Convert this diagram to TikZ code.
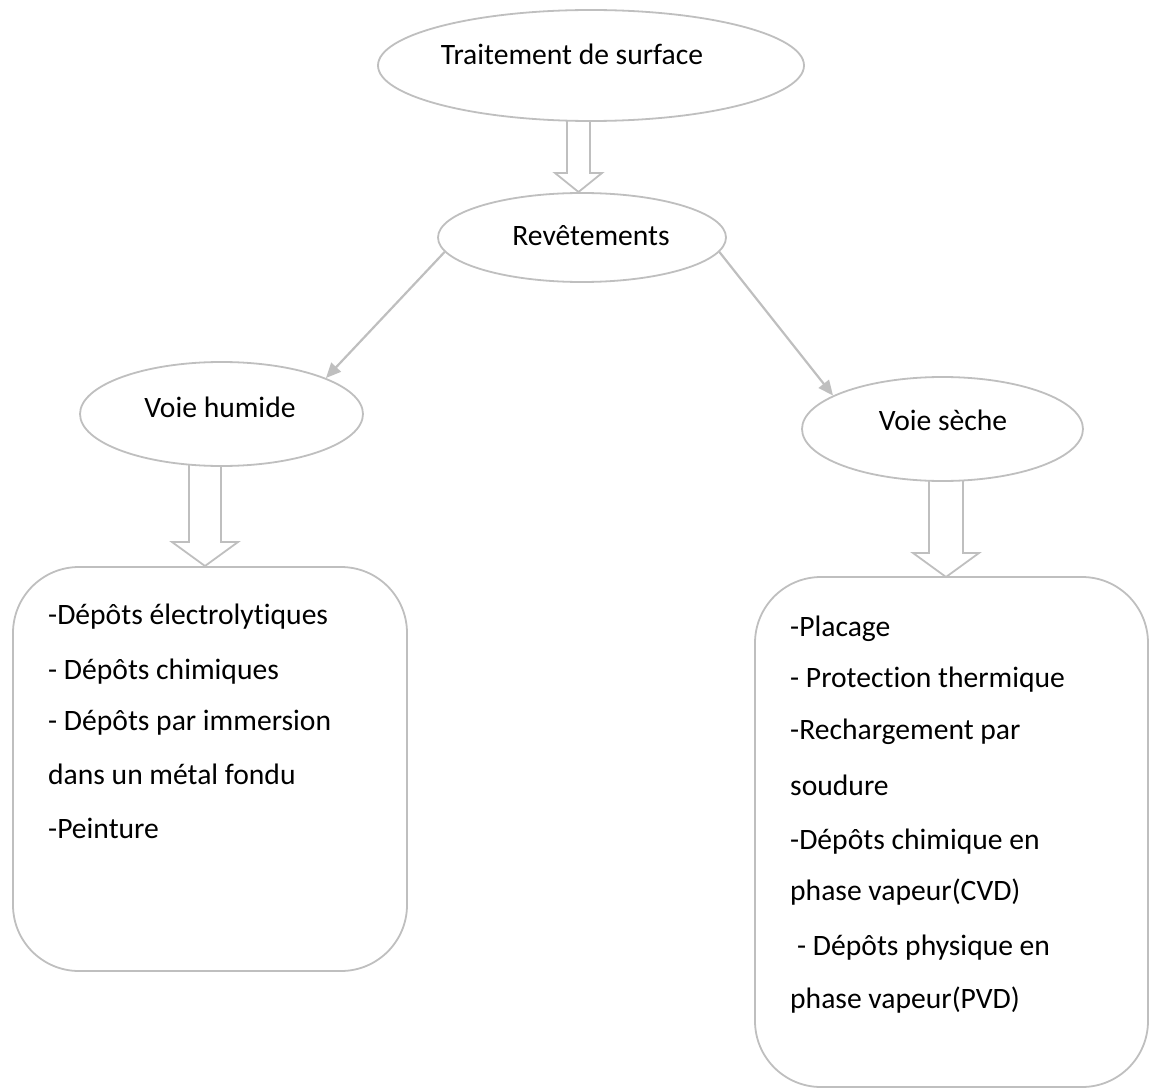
\documentclass[tikz,border=0pt]{standalone}
\usepackage{fontspec}
\setmainfont[Ligatures=NoCommon,RawFeature={-liga;-dlig;-calt}]{Carlito}
\usetikzlibrary{shapes.geometric,arrows.meta}

\definecolor{linegray}{RGB}{191,191,191}

% hollow block arrow: #1 = shaft centre x, #2 = top y, #3 = shaft half width,
% #4 = shaft bottom y, #5 = head half width, #6 = tip y
\newcommand{\blockarrow}[6]{%
  \draw[blockline] (#1-#3,#2) -- (#1-#3,#4) -- (#1-#5,#4) -- (#1,#6)
    -- (#1+#5,#4) -- (#1+#3,#4) -- (#1+#3,#2);}

\tikzset{
  ell/.style={ellipse, draw=linegray, line width=1.8pt, fill=white, inner sep=0pt},
  lbl/.style={anchor=base, inner sep=0pt, font=\fontsize{29.6}{35}\selectfont},
  item/.style={anchor=base west, inner sep=0pt, font=\fontsize{29.6}{35}\selectfont},
  listbox/.style={draw=linegray, line width=1.8pt, rounded corners=66pt},
  blockline/.style={draw=linegray, line width=1.8pt, line join=miter},
  link/.style={draw=linegray, line width=2.2pt,
    -{Triangle[length=15pt,width=13pt]}, shorten >=0pt},
}

\begin{document}
\begin{tikzpicture}[x=1pt,y=-1pt]
  \useasboundingbox (0,0) rectangle (1149,1089);

  % block arrows between the levels
  \blockarrow{578.5}{119}{11.5}{173}{23.5}{192}
  \blockarrow{205}{464}{16}{542}{33}{566}
  \blockarrow{946}{480}{17}{553}{33}{577}

  % ellipses, with their labels set on a baseline
  \node[ell, minimum width=426pt, minimum height=111pt] (ts) at (591,65.5) {};
  \node[lbl] (tstxt) at (572,65) {Traitement de surface};

  \node[ell, minimum width=288pt, minimum height=89pt] (rev) at (582,237.5) {};
  \node[lbl] (revtxt) at (591,245) {Revêtements};

  \node[ell, minimum width=283pt, minimum height=104pt] (hum) at (221.5,414) {};
  \node[lbl] (humtxt) at (220,417) {Voie humide};

  \node[ell, minimum width=281pt, minimum height=104pt] (sec) at (942.5,429) {};
  \node[lbl] (sectxt) at (943,430) {Voie sèche};

  % thin connectors
  \draw[link] (rev.186.5) -- (hum.19);
  \draw[link] (rev.-6.2) -- (sec.163.5);

  % list boxes
  \draw[listbox] (13,567) rectangle (407,971);
  \draw[listbox] (755,577) rectangle (1148,1087);

  % wet processes
  \node[item] (h1) at (48,624) {-Dépôts électrolytiques};
  \node[item] (h2) at (48,679) {- Dépôts chimiques};
  \node[item] (h3) at (48,730) {- Dépôts par immersion};
  \node[item] (h4) at (48,784) {dans un métal fondu};
  \node[item] (h5) at (48,838) {-Peinture};

  % dry processes
  \node[item] (s1) at (790,636) {-Placage};
  \node[item] (s2) at (790,687) {- Protection thermique};
  \node[item] (s3) at (790,739) {-Rechargement par};
  \node[item] (s4) at (790,795) {soudure};
  \node[item] (s5) at (790,849) {-Dépôts chimique en};
  \node[item] (s6) at (790,900) {phase vapeur(CVD)};
  \node[item] (s7) at (797,955) {- Dépôts physique en};
  \node[item] (s8) at (790,1008) {phase vapeur(PVD)};
\end{tikzpicture}
\end{document}
